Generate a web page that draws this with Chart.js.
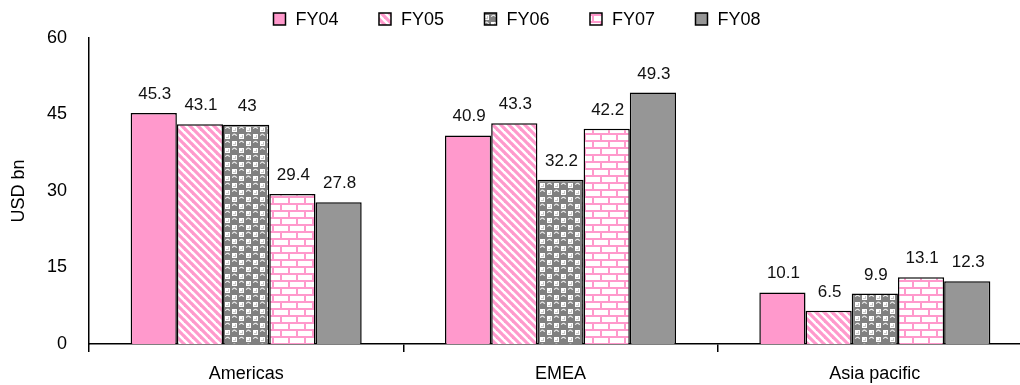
<!DOCTYPE html>
<html>
<head>
<meta charset="utf-8">
<title>Revenue by region</title>
<script src="https://cdn.jsdelivr.net/npm/chart.js@4.4.1/dist/chart.umd.min.js"></script>
<style>
  html, body { margin: 0; padding: 0; background: #fff; overflow: hidden; }
  #wrap { width: 1020px; height: 385px; overflow: hidden; position: relative; }
  canvas { display: block; }
</style>
</head>
<body>
<div id="wrap"><canvas id="c" width="1032" height="385"></canvas></div>
<script>
// Regions on the x axis
const categories = ['Americas', 'EMEA', 'Asia pacific'];
// Fiscal years, one series each
const seriesNames = ['FY04', 'FY05', 'FY06', 'FY07', 'FY08'];
// Revenue in USD bn, by region
const fy04 = [45.3, 40.9, 10.1];
const fy05 = [43.1, 43.3, 6.5];
const fy06 = [43, 32.2, 9.9];
const fy07 = [29.4, 42.2, 13.1];
const fy08 = [27.8, 49.3, 12.3];
// Value axis
const yTicks = [0, 15, 30, 45, 60];
const yTitle = 'USD bn';

const PINK = '#FF99CC';
const GREY = '#969696';
const DARK_GREY = '#808080';
const FONT = '"Liberation Sans", Arial, sans-serif';

const canvas = document.getElementById('c');
const ctx = canvas.getContext('2d');

function makeTile(w, h, paint) {
  const t = document.createElement('canvas');
  t.width = w; t.height = h;
  const g = t.getContext('2d');
  paint(g, w, h);
  return ctx.createPattern(t, 'repeat');
}

// Pink diagonal stripes
const stripes = makeTile(8, 8, (g, w, h) => {
  g.fillStyle = '#fff'; g.fillRect(0, 0, w, h);
  g.strokeStyle = PINK; g.lineWidth = 3.2;
  for (const k of [-8, 0, 8]) {
    g.beginPath(); g.moveTo(k - 1, -1); g.lineTo(k + w + 1, h + 1); g.stroke();
  }
});

// Grey spheres with white cells between them
const spheres = makeTile(14, 14, (g, w, h) => {
  g.fillStyle = DARK_GREY; g.fillRect(0, 0, w, h);
  g.fillStyle = '#fff';
  g.fillRect(8, 1, 5, 5);
  g.fillRect(1, 8, 5, 5);
  g.fillStyle = '#c8c8c8';
  g.fillRect(9, 2, 3, 3);
  g.fillRect(2, 9, 3, 3);
  g.fillStyle = '#fff';
  g.fillRect(9, 2, 2, 2);
  g.fillRect(2, 9, 2, 2);
  g.strokeStyle = '#e8e8e8'; g.lineWidth = 1.2;
  for (const [x, y] of [[3.5, 3.5], [10.5, 10.5]]) {
    g.beginPath(); g.arc(x, y, 2.2, Math.PI * 1.1, Math.PI * 1.9); g.stroke();
  }
});

// Pink brick wall
const bricks = makeTile(16, 14, (g, w, h) => {
  g.fillStyle = '#fff'; g.fillRect(0, 0, w, h);
  g.fillStyle = PINK;
  g.fillRect(0, 0, w, 2);
  g.fillRect(0, 7, w, 2);
  g.fillRect(0, 0, 2, 7);
  g.fillRect(8, 7, 2, 7);
});

const fills = [PINK, stripes, spheres, bricks, GREY];
const seriesValues = [fy04, fy05, fy06, fy07, fy08];

// Value labels above each bar
const valueLabels = {
  id: 'valueLabels',
  afterDatasetsDraw(chart) {
    const c = chart.ctx;
    c.save();
    c.font = '17px ' + FONT;
    c.fillStyle = '#111';
    c.textAlign = 'center';
    c.textBaseline = 'alphabetic';
    chart.data.datasets.forEach((ds, i) => {
      chart.getDatasetMeta(i).data.forEach((bar, j) => {
        c.fillText(String(ds.data[j]), bar.x + 1, bar.y - 14);
      });
    });
    c.restore();
  }
};

// Legend row across the top
const topLegend = {
  id: 'topLegend',
  afterDraw(chart) {
    const c = chart.ctx;
    c.save();
    c.font = '18px ' + FONT;
    c.textBaseline = 'middle';
    const box = 12, gap = 10, step = 105.5;
    const items = chart.data.datasets;
    const lastW = c.measureText(items[items.length - 1].label).width;
    const total = step * (items.length - 1) + box + gap + lastW;
    let x = 517 - total / 2;
    const y = 19;
    items.forEach(ds => {
      c.fillStyle = ds.backgroundColor;
      c.fillRect(x, y - box / 2, box, box);
      c.strokeStyle = '#000'; c.lineWidth = 1.5;
      c.strokeRect(x, y - box / 2, box, box);
      c.fillStyle = '#000';
      c.textAlign = 'left';
      c.fillText(ds.label, x + box + gap, y + 1);
      x += step;
    });
    c.restore();
  }
};

new Chart(ctx, {
  type: 'bar',
  data: {
    labels: categories,
    datasets: seriesNames.map((name, i) => ({
      label: name,
      data: seriesValues[i],
      backgroundColor: fills[i],
      borderColor: '#000',
      borderWidth: 1.5,
      borderSkipped: 'bottom',
      barPercentage: 1,
      categoryPercentage: 0.735
    }))
  },
  options: {
    responsive: false,
    animation: false,
    events: [],
    layout: { padding: { top: 38, left: 0, right: 0, bottom: 0 } },
    plugins: {
      legend: { display: false },
      tooltip: { enabled: false }
    },
    scales: {
      x: {
        type: 'category',
        offset: true,
        grid: {
          display: true, offset: true, drawOnChartArea: false,
          drawTicks: true, tickLength: 8, color: '#000', lineWidth: 1.5
        },
        border: { display: true, color: '#000', width: 1.5 },
        ticks: { font: { family: FONT, size: 18 }, color: '#000', padding: 11, maxRotation: 0 },
        afterFit: s => { s.height = 41; }
      },
      y: {
        min: yTicks[0],
        max: yTicks[yTicks.length - 1],
        afterBuildTicks: s => { s.ticks = yTicks.map(v => ({ value: v })); },
        grid: { display: false, drawTicks: false },
        border: { display: true, color: '#000', width: 1.5 },
        ticks: { font: { family: FONT, size: 18 }, color: '#000', padding: 22 },
        title: {
          display: true, text: yTitle, color: '#000',
          font: { family: FONT, size: 18 }, padding: { top: 8, bottom: 0 }
        },
        afterFit: s => { s.width = 89; }
      }
    }
  },
  plugins: [valueLabels, topLegend]
});
</script>
</body>
</html>
